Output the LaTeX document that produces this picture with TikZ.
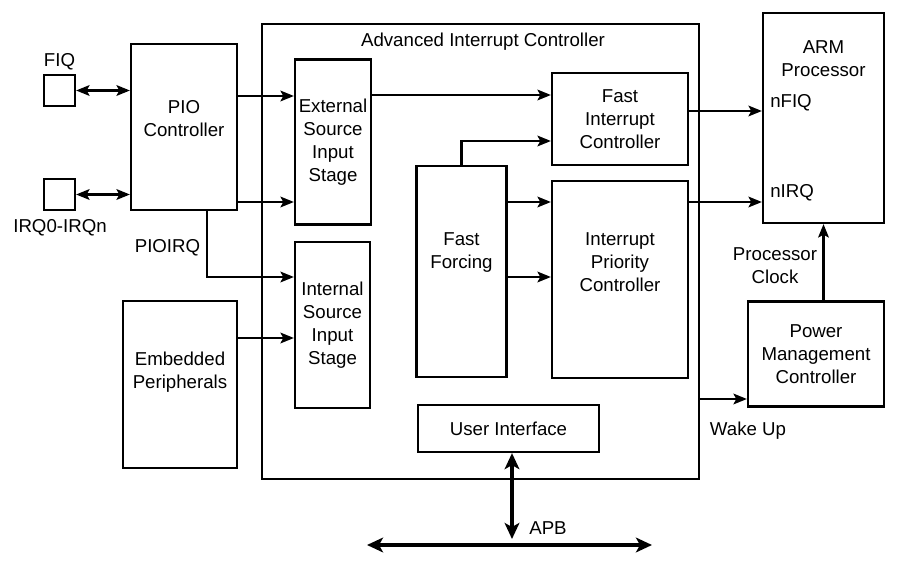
\documentclass[tikz,border=0pt]{standalone}
\usepackage{fontspec}
\setmainfont{Liberation Sans}
\usetikzlibrary{arrows.meta}

\tikzset{
  blk/.style={draw, line width=1.7pt, inner sep=0pt, align=center},
  txt/.style={inner sep=0pt, align=center},
  sig/.style={line width=1.6pt, -{Stealth[length=10pt,width=8pt,inset=2pt]}},
  dsig/.style={line width=1.6pt, {Stealth[length=10pt,width=8pt,inset=2pt]}-{Stealth[length=10pt,width=8pt,inset=2pt]}},
  bus/.style={line width=3pt, {Stealth[length=12pt,width=11pt,inset=3pt]}-{Stealth[length=12pt,width=11pt,inset=3pt]}},
}

\begin{document}
\begin{tikzpicture}[x=0.75pt, y=-0.75pt, font=\fontsize{14}{17.25}\selectfont]
        \useasboundingbox (0,0) rectangle (914,570);

        % --- 1. Pins and peripherals (left side) ---
        \node[blk, minimum width=23.25pt, minimum height=23.25pt] (fiqpad) at (59.5,90.5) {};
        \node[txt] (fiqlbl) at (59.5,62) {FIQ};
        \node[blk, minimum width=23.25pt, minimum height=23.25pt] (irqpad) at (59.5,194.5) {};
        \node[txt] (irqlbl) at (60,228) {IRQ0-IRQn};

        \node[blk, minimum width=79.5pt, minimum height=124.5pt,
              label={[txt, yshift=6.5pt]center:{PIO\\Controller}}] (pio) at (184,127) {};
        \node[txt] (pioirq) at (167.5,248) {PIOIRQ};

        \node[blk, minimum width=85.5pt, minimum height=125.25pt,
              label={[txt, yshift=9.5pt]center:{Embedded\\Peripherals}}] (emb) at (180,384.5) {};

        % --- 2. Advanced Interrupt Controller ---
        \node[blk, minimum width=327.75pt, minimum height=341.25pt] (aic) at (480.5,251.5) {};
        \node[txt] (aictitle) at (483,42) {Advanced Interrupt Controller};

        \node[blk, minimum width=57pt, minimum height=123.75pt] (ext) at (333,142) {External\\Source\\Input\\Stage};
        \node[blk, minimum width=56.25pt, minimum height=124.5pt] (int) at (332.5,325) {Internal\\Source\\Input\\Stage};
        \node[blk, minimum width=67.5pt, minimum height=158.25pt,
              label={[txt, yshift=14pt]center:{Fast\\Forcing}}] (ff) at (461.5,271.5) {};
        \node[blk, minimum width=102pt, minimum height=69pt] (fic) at (620,119) {Fast\\Interrupt\\Controller};
        \node[blk, minimum width=102pt, minimum height=147.75pt,
              label={[txt, yshift=13pt]center:{Interrupt\\Priority\\Controller}}] (ipc) at (620,279.5) {};
        \node[blk, minimum width=135.75pt, minimum height=35.25pt] (ui) at (508.5,428.5) {User Interface};

        % --- 3. Processor and power management (right side) ---
        \node[blk, minimum width=90.75pt, minimum height=157.5pt,
              label={[txt, yshift=44.5pt]center:{ARM\\Processor}}] (arm) at (823.5,118) {};
        \node[txt, anchor=west] (nfiq) at (770,103) {nFIQ};
        \node[txt, anchor=west] (nirq) at (770,193) {nIRQ};
        \node[blk, minimum width=102pt, minimum height=78.75pt] (pmc) at (816,354) {Power\\Management\\Controller};
        \node[txt] (pclk) at (775,266) {Processor\\Clock};
        \node[txt] (wake) at (748,431) {Wake Up};

        % --- 4. Signals ---
        \draw[dsig] (fiqpad.east) -- (fiqpad.east -| pio.west);
        \draw[dsig] (irqpad.east) -- (irqpad.east -| pio.west);
        \draw[sig] (pio.east |- 0,96) -- (ext.west |- 0,96);
        \draw[sig] (pio.east |- 0,202) -- (ext.west |- 0,202);
        \draw[sig] (pio.south -| 207,0) |- (int.west |- 0,277);
        \draw[sig] (emb.east |- 0,338) -- (int.west |- 0,338);
        \draw[sig] (ext.east |- 0,95) -- (fic.west |- 0,95);
        \draw[sig] (ff.north) |- (fic.west |- 0,141);
        \draw[sig] (ff.east |- 0,202) -- (ipc.west |- 0,202);
        \draw[sig] (ff.east |- 0,277) -- (ipc.west |- 0,277);
        \draw[sig] (fic.east |- 0,111) -- (arm.west |- 0,111);
        \draw[sig] (ipc.east |- 0,202) -- (arm.west |- 0,202);
        \draw[sig] (aic.east |- 0,399) -- (pmc.west |- 0,399);
        \draw[sig] (pmc.north -| arm.south) -- (arm.south);

        % APB bus
        \coordinate (apbl) at (367,545);
        \coordinate (apbr) at (652,545);
        \coordinate (apbtap) at (512,539);
        \draw[bus] (apbl) -- (apbr);
        \draw[bus, line width=2.6pt] (ui.south -| apbtap) -- (apbtap);
        \node[txt] (apb) at (548,528) {APB};

\end{tikzpicture}
\end{document}
